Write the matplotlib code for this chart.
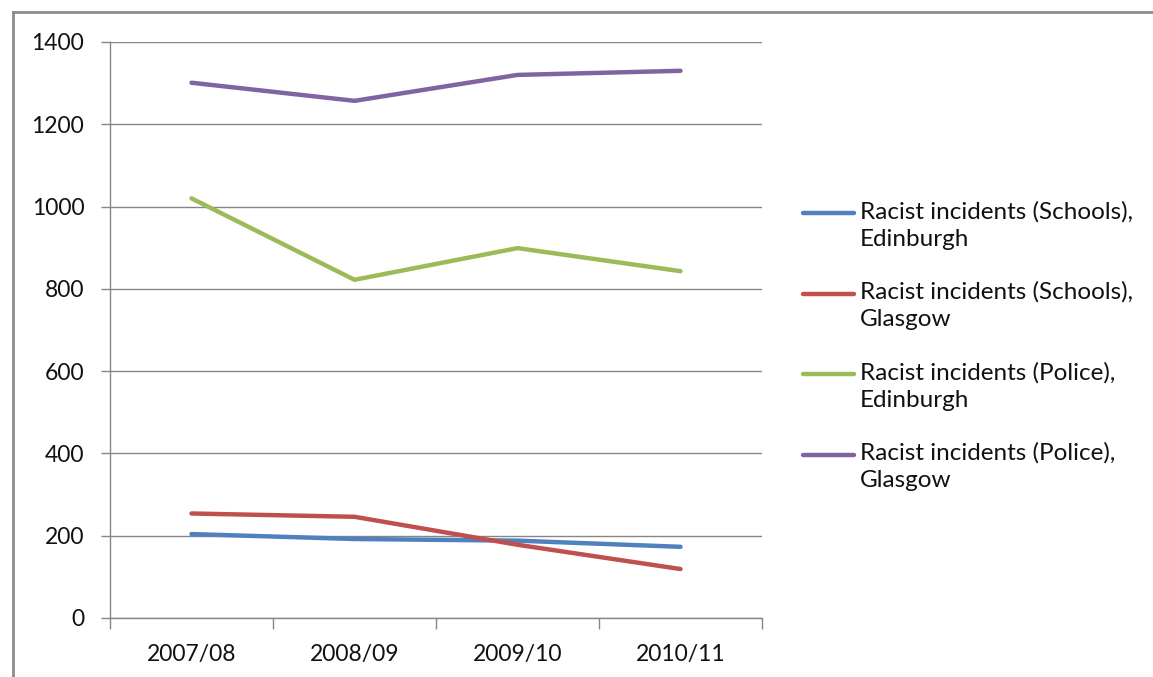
import matplotlib
matplotlib.use("Agg")
from matplotlib import pyplot as plt
from matplotlib.lines import Line2D

plt.rcParams['font.family'] = ['Lato', 'DejaVu Sans']

years = ["2007/08", "2008/09", "2009/10", "2010/11"]
schools_edinburgh = [204, 192, 188, 173]
schools_glasgow = [254, 246, 178, 119]
police_edinburgh = [1020, 822, 899, 843]
police_glasgow = [1301, 1257, 1320, 1330]

labels = ["Racist incidents (Schools),\nEdinburgh",
          "Racist incidents (Schools),\nGlasgow",
          "Racist incidents (Police),\nEdinburgh",
          "Racist incidents (Police),\nGlasgow"]
colors = ["#4F81BD", "#C0504D", "#9BBB59", "#8064A2"]

W, H = 1153, 677


def fx(px):
    return px / W


def fy(py):
    return 1 - py / H


def main():
    fig = plt.figure(figsize=(W / 100, H / 100), dpi=100)
    ax = fig.add_axes([fx(110), fy(618), fx(652), 576 / H])

    grid_col = "#868686"
    x = range(len(years))
    series = [schools_edinburgh, schools_glasgow, police_edinburgh, police_glasgow]
    for vals, lab, col in zip(series, labels, colors):
        ax.plot(x, vals, color=col, lw=3.2, label=lab,
                solid_capstyle="round", solid_joinstyle="round", zorder=3)

    ax.set_xlim(-0.5, 3.5)
    ax.set_ylim(0, 1400)
    ax.set_yticks(range(0, 1401, 200))
    ax.set_xticks(x)
    ax.set_xticklabels(years)
    ax.set_xticks([-0.5, 0.5, 1.5, 2.5, 3.5], minor=True)

    ax.grid(axis="y", color=grid_col, lw=1)
    ax.set_axisbelow(True)
    for side in ["top", "right"]:
        ax.spines[side].set_visible(False)
    for side in ["left", "bottom"]:
        ax.spines[side].set_color(grid_col)
        ax.spines[side].set_linewidth(1)

    ax.tick_params(axis="y", length=6.5, width=1, color=grid_col,
                   labelsize=16.5, pad=12, labelcolor="#111111")
    ax.tick_params(axis="x", which="major", length=0, labelsize=16.5, pad=19,
                   labelcolor="#111111")
    ax.tick_params(axis="x", which="minor", length=8, width=1, color=grid_col)

    # legend drawn by hand so the key line sits on the first text line
    for i, (lab, col) in enumerate(zip(labels, colors)):
        y = 213 + i * 80.5
        fig.add_artist(Line2D([fx(803), fx(854)], [fy(y), fy(y)], color=col,
                              lw=3.2, solid_capstyle="round",
                              transform=fig.transFigure))
        fig.text(fx(860), fy(y - 12), lab, fontsize=17.5, color="#111111",
                 va="top", linespacing=1.36, transform=fig.transFigure)

    # chart frame, only top and left edges visible
    fig.add_artist(Line2D([fx(13), 1], [fy(12), fy(12)],
                          color="#8c8c8c", lw=2, transform=fig.transFigure))
    fig.add_artist(Line2D([fx(13), fx(13)], [0, fy(12)],
                          color="#8c8c8c", lw=2, transform=fig.transFigure))

    fig.savefig("out.png", dpi=100)


if __name__ == "__main__":
    main()
